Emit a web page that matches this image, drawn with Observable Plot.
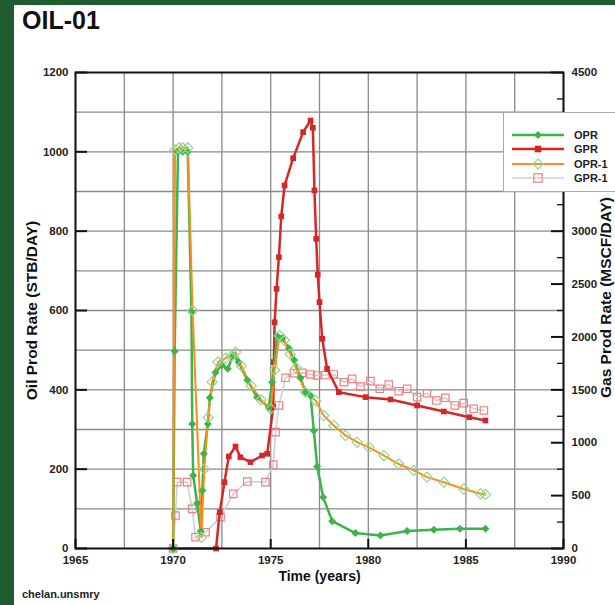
<!DOCTYPE html>
<html><head><meta charset="utf-8">
<script src="https://cdn.jsdelivr.net/npm/d3@7"></script>
<script src="https://cdn.jsdelivr.net/npm/@observablehq/plot@0.6"></script>
<style>
body{margin:0;width:615px;height:605px;position:relative;overflow:hidden;background:#fff;font-family:"Liberation Sans",Arial,sans-serif;}
#gl{position:absolute;left:0;top:0;width:14px;height:605px;background:#1e5b2f;}
#gt{position:absolute;left:0;top:0;width:615px;height:5px;background:#1e5b2f;}
#title{position:absolute;left:22px;top:8px;font-weight:bold;font-size:25px;line-height:25px;color:#111;}
#chart{position:absolute;left:0;top:40px;}
#caption{position:absolute;left:22px;top:589px;font-size:11px;line-height:11px;font-weight:bold;color:#222;}
#legend{position:absolute;left:503px;top:112px;width:140px;height:80px;background:#fff;border:1px solid #aaa;box-sizing:border-box;}
#legend .row{position:absolute;left:8px;height:12px;}
#legend .row svg{position:absolute;left:0;top:0;}
#legend .row span{position:absolute;left:62px;top:0px;font-size:11px;font-weight:bold;line-height:12px;color:#222;white-space:nowrap;}
</style></head>
<body>
<div id="gl"></div><div id="gt"></div>
<div id="title">OIL-01</div>
<div id="chart"></div>
<div id="legend"></div>
<div id="caption">chelan.unsmry</div>
<script>
// ---- data ----
const oprTime = [1970.0, 1970.08, 1970.25, 1970.5, 1970.75, 1970.94, 1970.98, 1971.03, 1971.23, 1971.42, 1971.5, 1971.57, 1971.78, 1971.88, 1972.17, 1972.5, 1972.8, 1973.08, 1973.35, 1973.8, 1974.3, 1974.9, 1975.08, 1975.33, 1975.59, 1975.93, 1976.2, 1976.53, 1976.78, 1977.04, 1977.21, 1977.38, 1977.69, 1978.15, 1979.34, 1980.62, 1981.99, 1983.36, 1984.69, 1986.0];
const oprRate = [0, 497, 1000, 1000, 1000, 596, 314, 184, 114, 44, 146, 239, 314, 380, 444, 462, 453, 487, 470, 425, 381, 356, 419, 535, 530, 505, 475, 430, 394, 386, 297, 207, 129, 69, 39, 33, 44, 47, 50, 50];

const opr1Time = [1970.0, 1970.1, 1970.3, 1970.5, 1970.75, 1971.0, 1971.45, 1971.6, 1971.8, 1972.0, 1972.3, 1972.7, 1973.0, 1973.2, 1973.5, 1974.0, 1974.5, 1975.0, 1975.2, 1975.45, 1975.7, 1976.0, 1976.3, 1976.78, 1977.3, 1977.72, 1978.23, 1978.83, 1979.43, 1980.03, 1980.8, 1981.56, 1982.33, 1983.01, 1983.87, 1984.89, 1985.75, 1986.0];
const opr1Rate = [0, 1005, 1010, 1010, 1010, 600, 28, 200, 330, 420, 470, 480, 485, 495, 460, 410, 375, 352, 450, 537, 525, 490, 455, 394, 373, 335, 310, 285, 268, 255, 234, 213, 197, 180, 167, 150, 138, 136];

const gprTime = [1970.0, 1972.2, 1972.39, 1972.63, 1972.85, 1973.2, 1973.45, 1973.96, 1974.56, 1974.82, 1975.13, 1975.16, 1975.2, 1975.3, 1975.42, 1975.54, 1975.71, 1976.15, 1976.66, 1977.04, 1977.16, 1977.24, 1977.33, 1977.41, 1977.5, 1977.64, 1977.89, 1978.49, 1979.86, 1981.14, 1982.5, 1983.87, 1985.18, 1986.0];
const gprRate = [0, 0, 343, 627, 870, 964, 863, 816, 879, 895, 1336, 1762, 2139, 2455, 2754, 3139, 3432, 3690, 3936, 4046, 3977, 3385, 2928, 2588, 2329, 1983, 1699, 1478, 1431, 1409, 1352, 1295, 1241, 1210];

const gpr1Time = [1970.0, 1970.12, 1970.21, 1970.72, 1970.98, 1971.15, 1971.66, 1972.43, 1973.08, 1973.8, 1974.73, 1975.13, 1975.25, 1975.42, 1975.76, 1976.19, 1976.61, 1977.04, 1977.38, 1977.8, 1978.23, 1978.75, 1979.17, 1979.6, 1980.11, 1980.59, 1981.05, 1981.56, 1981.99, 1982.5, 1983.01, 1983.49, 1983.95, 1984.43, 1984.89, 1985.4, 1985.92];
const gpr1Rate = [0, 312, 627, 627, 375, 107, 154, 296, 517, 633, 627, 794, 1100, 1352, 1614, 1658, 1660, 1645, 1636, 1640, 1645, 1572, 1604, 1531, 1582, 1510, 1550, 1487, 1510, 1431, 1468, 1399, 1425, 1352, 1374, 1321, 1305];

const xDomain = [1965, 1990];
const xMajor = [1965, 1970, 1975, 1980, 1985, 1990];
const xGrid = [1965, 1967.5, 1970, 1972.5, 1975, 1977.5, 1980, 1982.5, 1985, 1987.5, 1990];
const oilMax = 1200;
const oilMajor = [0, 200, 400, 600, 800, 1000, 1200];
const oilGrid = [100, 200, 300, 400, 500, 600, 700, 800, 900, 1000, 1100];
const gasMax = 4500;
const gasMajor = [0, 500, 1000, 1500, 2000, 2500, 3000, 3500, 4000, 4500];
const gasLabels = [0, 500, 1000, 1500, 2000, 2500, 3000, 4500]; // 3500 and 4000 sit behind the legend
const gasMinor = [250, 750, 1250, 1750, 2250, 2750, 3250, 3750, 4250];

const legendNames = ["OPR", "GPR", "OPR-1", "GPR-1"];

// ---- styling ----
const cGreen = "#3cb44a", cRed = "#d62728", cOrange = "#ff8c1a", cGray = "#cfcfcf";
const cGreenLight = "#8fd88f", cRedLight = "#ef8080";
const ratio = gasMax / oilMax;

const pairs = (ts, vs, k = 1) => ts.map((t, i) => ({t, v: vs[i] / k}));
const opr = pairs(oprTime, oprRate);
const opr1 = pairs(opr1Time, opr1Rate);
const gpr = pairs(gprTime, gprRate, ratio);
const gpr1 = pairs(gpr1Time, gpr1Rate, ratio);

const yr = (xDomain[1] - xDomain[0]) / 488; // years per pixel of frame
const up = oilMax / 476;                     // oil units per pixel of frame

const chart = Plot.plot({
  width: 615, height: 550,
  marginLeft: 75, marginRight: 52, marginTop: 32, marginBottom: 42,
  x: {domain: xDomain},
  y: {domain: [0, oilMax]},
  style: {fontFamily: "'Liberation Sans', Arial, sans-serif", fontSize: "11.5px", fontWeight: "bold", color: "#222", background: "transparent", overflow: "visible"},
  marks: [
    Plot.ruleX(xGrid, {stroke: "#8a8a8a", strokeWidth: 1.3}),
    Plot.ruleY(oilGrid, {stroke: "#8a8a8a", strokeWidth: 1.3}),
    // GPR-1
    Plot.line(gpr1, {x: "t", y: "v", stroke: cGray, strokeWidth: 1.6}),
    Plot.dot(gpr1, {x: "t", y: "v", symbol: "square", r: 4.2, fill: "none", stroke: cRedLight, strokeWidth: 1.2}),
    // GPR
    Plot.line(gpr, {x: "t", y: "v", stroke: cRed, strokeWidth: 2.5}),
    Plot.dot(gpr, {x: "t", y: "v", symbol: "square", r: 3.2, fill: cRed}),
    // OPR
    Plot.line(opr, {x: "t", y: "v", stroke: cGreen, strokeWidth: 2.5}),
    // OPR-1
    Plot.line(opr1, {x: "t", y: "v", stroke: cOrange, strokeWidth: 2}),
    Plot.dot(opr, {x: "t", y: "v", symbol: "diamond2", r: 3.6, fill: cGreen}),
    Plot.dot(opr1, {x: "t", y: "v", symbol: "diamond2", r: 4.6, fill: "none", stroke: cGreenLight, strokeWidth: 1.2}),
    // inward ticks
    Plot.ruleY(oilMajor, {x1: xDomain[0], x2: xDomain[0] + 12 * yr, stroke: "#111", strokeWidth: 2}),
    Plot.ruleY(gasMajor.map(g => g / ratio), {x1: xDomain[1] - 12 * yr, x2: xDomain[1], stroke: "#111", strokeWidth: 2}),
    Plot.ruleY(gasMinor.map(g => g / ratio), {x1: xDomain[1] - 6 * yr, x2: xDomain[1], stroke: "#111", strokeWidth: 1.3}),
    Plot.ruleX(xMajor, {y1: 0, y2: 9 * up, stroke: "#111", strokeWidth: 2}),
    Plot.frame({stroke: "#111", strokeWidth: 2}),
    // axes
    Plot.axisY({ticks: oilMajor, anchor: "left", tickSize: 0, tickPadding: 7, label: null, tickFormat: d => String(d)}),
    Plot.axisY({ticks: gasLabels.map(g => g / ratio), anchor: "right", tickSize: 0, tickPadding: 8, label: null, tickFormat: d => String(Math.round(d * ratio))}),
    Plot.axisX({ticks: xMajor, anchor: "bottom", tickSize: 0, tickPadding: 7, label: null, tickFormat: d => String(d)}),
    Plot.text(["Oil Prod Rate (STB/DAY)"], {frameAnchor: "left", textAnchor: "middle", rotate: -90, dx: -43, fontSize: 15.5, fill: "#111"}),
    Plot.text(["Gas Prod Rate (MSCF/DAY)"], {frameAnchor: "right", textAnchor: "middle", rotate: -90, dx: 43, dy: -13, fontSize: 15.5, fill: "#111"}),
    Plot.text(["Time (years)"], {frameAnchor: "bottom", textAnchor: "middle", dy: 32, fontSize: 14, fill: "#111"})
  ]
});
document.getElementById("chart").appendChild(chart);

// ---- legend ----
const legendSpec = [
  {line: cGreen, w: 2.5, sym: "diamond", fill: cGreen, stroke: "none", s: 4},
  {line: cRed, w: 2.5, sym: "square", fill: cRed, stroke: "none", s: 3.3},
  {line: cOrange, w: 2, sym: "diamond", fill: "none", stroke: cGreenLight, s: 5},
  {line: cGray, w: 1.6, sym: "square", fill: "none", stroke: cRedLight, s: 4.2}
];
const lg = document.getElementById("legend");
legendNames.forEach((name, i) => {
  const sp = legendSpec[i];
  const row = document.createElement("div");
  row.className = "row";
  row.style.top = (16 + i * 14.4) + "px";
  const cx = 26, cy = 6, s = sp.s;
  const shape = sp.sym === "diamond"
    ? `<path d="M${cx},${cy - s}L${cx + s},${cy}L${cx},${cy + s}L${cx - s},${cy}Z" fill="${sp.fill}" stroke="${sp.stroke}" stroke-width="1.2"/>`
    : `<rect x="${cx - s}" y="${cy - s}" width="${2 * s}" height="${2 * s}" fill="${sp.fill}" stroke="${sp.stroke}" stroke-width="1.2"/>`;
  row.innerHTML = `<svg width="54" height="12"><line x1="0" x2="52" y1="6" y2="6" stroke="${sp.line}" stroke-width="${sp.w}"/>${shape}</svg><span>${name}</span>`;
  lg.appendChild(row);
});
</script>
</body></html>
